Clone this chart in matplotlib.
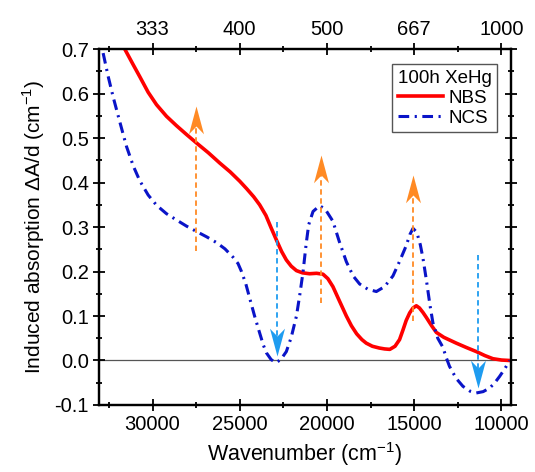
import numpy as np
import matplotlib.pyplot as plt
from matplotlib.path import Path
from matplotlib.ticker import FixedLocator, MultipleLocator

plt.rcParams["font.family"] = ["Liberation Sans", "DejaVu Sans"]
plt.rcParams["mathtext.fontset"] = "custom"
plt.rcParams["mathtext.rm"] = "Liberation Sans"

# NBS (red, solid)
nbs_wn = [31590, 31150, 30730, 30250, 29770, 29200, 28630, 28050, 27480, 26800,
          26150, 25550, 25000, 24600, 24200, 23860, 23500, 23200, 22900, 22600,
          22330, 22050, 21750, 21400, 21000, 20600, 20230, 19950, 19660, 19300,
          18890, 18600, 18300, 18000, 17750, 17400, 17000, 16700, 16400, 16100,
          15840, 15650, 15460, 15260, 15070, 14880, 14700, 14500, 14310, 14000,
          13730, 13300, 12590, 12000, 11440, 10950, 10490, 10000, 9530]
nbs_abs = [0.700, 0.668, 0.638, 0.603, 0.575, 0.549, 0.528, 0.508, 0.489, 0.467,
           0.444, 0.424, 0.403, 0.386, 0.368, 0.350, 0.326, 0.298, 0.271, 0.245,
           0.226, 0.212, 0.202, 0.197, 0.195, 0.196, 0.194, 0.184, 0.166, 0.135,
           0.100, 0.078, 0.060, 0.047, 0.039, 0.032, 0.028, 0.026, 0.025, 0.032,
           0.047, 0.068, 0.090, 0.107, 0.118, 0.123, 0.118, 0.108, 0.097, 0.078,
           0.063, 0.052, 0.039, 0.029, 0.020, 0.011, 0.004, 0.001, 0.000]

# NCS (blue, dash-dot)
ncs_wn = [32830, 32550, 32260, 31900, 31490, 31100, 30730, 30250, 29770, 29200,
          28630, 28050, 27480, 26900, 26330, 25850, 25380, 25100, 24900, 24650,
          24430, 24150, 23860, 23650, 23470, 23200, 22930, 22650, 22330, 22050,
          21750, 21550, 21370, 21200, 21050, 20800, 20420, 20100, 19660, 19300,
          18890, 18500, 18130, 17650, 17170, 16700, 16220, 15850, 15460, 15250,
          15070, 14850, 14650, 14500, 14300, 14100, 13930, 13650, 13360, 13150,
          12980, 12600, 12210, 11800, 11440, 11050, 10680, 10400, 10110, 9800, 9530]
ncs_abs = [0.691, 0.640, 0.593, 0.540, 0.481, 0.437, 0.404, 0.372, 0.349, 0.330,
           0.316, 0.302, 0.290, 0.278, 0.265, 0.251, 0.232, 0.218, 0.200, 0.172,
           0.140, 0.100, 0.062, 0.035, 0.017, 0.002, -0.005, 0.002, 0.020, 0.052,
           0.100, 0.150, 0.200, 0.260, 0.305, 0.335, 0.348, 0.340, 0.313, 0.268,
           0.222, 0.190, 0.172, 0.160, 0.155, 0.166, 0.190, 0.222, 0.258, 0.283,
           0.297, 0.288, 0.260, 0.230, 0.180, 0.125, 0.085, 0.050, 0.030, 0.005,
           -0.013, -0.040, -0.058, -0.069, -0.073, -0.070, -0.062, -0.051, -0.036,
           -0.018, 0.000]

# arrows: position, start, tip
up_wn = [27480, 20330, 15070]
up_start = [0.245, 0.129, 0.088]
up_tip = [0.571, 0.462, 0.417]
down_wn = [22880, 11370]
down_start = [0.312, 0.238]
down_tip = [0.009, -0.062]

bottom_ticks = [30000, 25000, 20000, 15000, 10000]
top_labels = ["333", "400", "500", "667", "1000"]

orange = "#ff8a24"
lightblue = "#1e9cf0"

fig = plt.figure(figsize=(5.35, 4.72), dpi=100)
ax = fig.add_axes([0.1856, 0.142, 0.7690, 0.754])

ax.axhline(0, color="#555555", linewidth=0.9, zorder=1)

ax.plot(nbs_wn, nbs_abs, color="#ff0000", linewidth=2.6, label="NBS", zorder=3,
        solid_joinstyle="round")
ax.plot(ncs_wn, ncs_abs, color="#0a14c8", linewidth=2.2,
        linestyle=(0, (3.5, 1.8, 0.7, 1.8)), label="NCS", zorder=3)

# notched arrowhead marker, tip at origin
head_up = Path([(0, 0), (-0.27, -1), (0, -0.72), (0.27, -1), (0, 0)],
               [Path.MOVETO, Path.LINETO, Path.LINETO, Path.LINETO, Path.CLOSEPOLY])
head_down = Path([(0, 0), (-0.27, 1), (0, 0.72), (0.27, 1), (0, 0)],
                 [Path.MOVETO, Path.LINETO, Path.LINETO, Path.LINETO, Path.CLOSEPOLY])

for x, y0, y1 in zip(up_wn, up_start, up_tip):
    ax.plot([x, x], [y0, y1 - 0.04], color=orange, linewidth=1.3,
            linestyle=(0, (3, 2)), zorder=4)
    ax.plot([x], [y1], marker=head_up, markersize=40, color=orange,
            markeredgewidth=0, zorder=5)

for x, y0, y1 in zip(down_wn, down_start, down_tip):
    ax.plot([x, x], [y0, y1 + 0.04], color=lightblue, linewidth=1.3,
            linestyle=(0, (3, 2)), zorder=4)
    ax.plot([x], [y1], marker=head_down, markersize=40, color=lightblue,
            markeredgewidth=0, zorder=5)

ax.set_xlim(33050, 9470)
ax.set_ylim(-0.1, 0.7)

ax.xaxis.set_major_locator(FixedLocator(bottom_ticks))
ax.xaxis.set_minor_locator(MultipleLocator(2500))
ax.yaxis.set_major_locator(MultipleLocator(0.1))
ax.yaxis.set_minor_locator(MultipleLocator(0.05))
ax.yaxis.set_major_formatter(plt.FuncFormatter(lambda v, p: f"{v:.1f}"))

ax.tick_params(which="both", direction="inout", width=1.3, labelsize=14.5,
               right=True, top=False)
ax.tick_params(which="major", length=9, pad=3)
ax.tick_params(which="minor", length=5)

for s in ax.spines.values():
    s.set_linewidth(1.6)

top = ax.twiny()
top.set_xlim(ax.get_xlim())
top.xaxis.set_major_locator(FixedLocator(bottom_ticks))
top.set_xticklabels(top_labels)
top.xaxis.set_minor_locator(MultipleLocator(2500))
top.tick_params(which="both", direction="inout", width=1.3, labelsize=14.5)
top.tick_params(which="major", length=9, pad=3)
top.tick_params(which="minor", length=5)
for s in top.spines.values():
    s.set_linewidth(1.6)

ax.set_xlabel("Wavenumber (cm$^{-1}$)", fontsize=15.5, labelpad=4)
ax.set_ylabel("Induced absorption $\\Delta$A/d (cm$^{-1}$)", fontsize=15, labelpad=5)

leg = ax.legend(title="100h XeHg", loc="upper right",
                bbox_to_anchor=(0.967, 0.958), borderaxespad=0,
                fontsize=13.5, title_fontsize=13.5, handlelength=2.4,
                handletextpad=0.3, borderpad=0.3, labelspacing=0.15,
                fancybox=False, framealpha=1, alignment="left")
leg.get_frame().set_edgecolor("#555555")
leg.get_frame().set_linewidth(1.0)

fig.savefig("out.png", dpi=100)
